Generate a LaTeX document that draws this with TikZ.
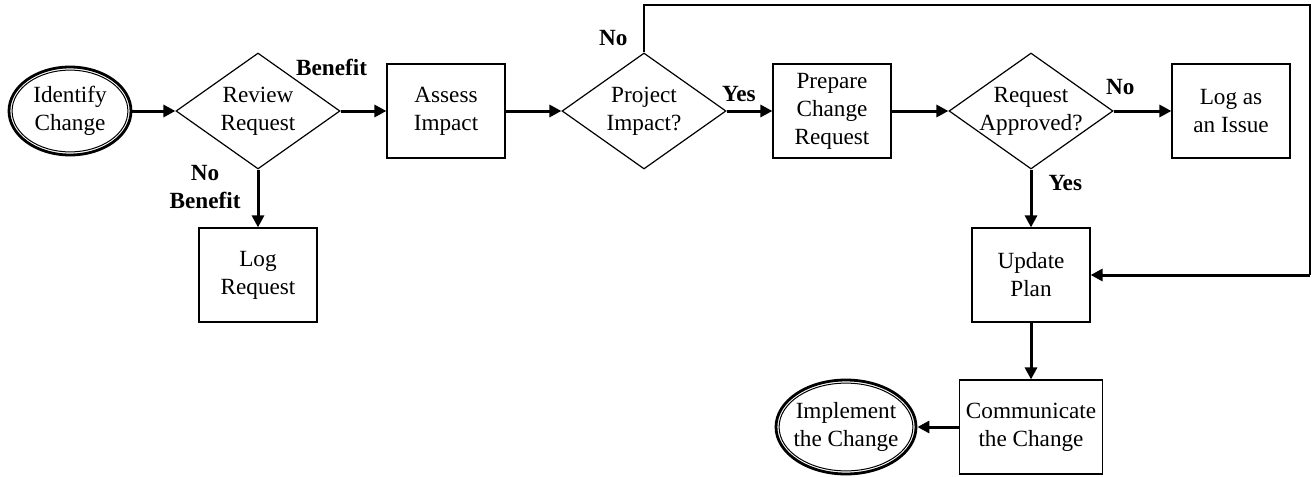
\documentclass[tikz,border=0pt]{standalone}
\usepackage{fontspec}
\setmainfont{Liberation Serif}
\usetikzlibrary{shapes.geometric,arrows.meta}

\tikzset{
  terminal/.style={ellipse, draw, line width=1.4pt, inner sep=0pt, align=center,
    font=\fontsize{11.6}{14}\selectfont},
  procbox/.style={rectangle, draw, line width=0.6pt, minimum width=59pt, minimum height=47pt,
    align=center, font=\fontsize{11.6}{14}\selectfont},
  decision/.style={diamond, draw, line width=0.6pt, shape aspect=1.41, inner sep=-1.5pt,
    minimum width=82pt, minimum height=58pt, align=center, font=\fontsize{11.6}{14}\selectfont},
  flow/.style={-{Triangle[length=6pt,width=6pt]}, line width=1.5pt},
  loopline/.style={line width=0.6pt},
  lbl/.style={font=\bfseries\fontsize{11.6}{14}\selectfont, inner sep=0pt, align=center}
}

\begin{document}
\begin{tikzpicture}[x=0.5pt, y=-0.5pt]
  \useasboundingbox (0,0) rectangle (1315,476);

  % start and end
  \node[terminal, minimum width=61pt, minimum height=44pt] (ident) at (70,111) {Identify\\Change};
  \node[terminal, minimum width=70pt, minimum height=47pt, inner xsep=-5pt] (impl) at (846,427) {Implement\\the Change};
  \foreach \n/\rx/\ry in {ident/28.95pt/20.45pt, impl/33.45pt/21.95pt}
    \draw[line width=0.5pt] (\n.center) ellipse [x radius=\rx, y radius=\ry];

  % decisions
  \node[decision] (review) at (258,111) {Review\\Request};
  \node[decision] (proj)   at (644,111) {Project\\Impact?};
  \node[decision] (appr)   at (1031,111) {Request\\Approved?};

  % steps
  \node[procbox] (assess) at (446,111)  {Assess\\Impact};
  \node[procbox] (prep)   at (832,111)  {Prepare\\Change\\Request};
  \node[procbox] (issue)  at (1231,111) {Log as\\an Issue};
  \node[procbox] (logreq) at (258,275)  {Log\\Request};
  \node[procbox] (upd)    at (1031,275) {Update\\Plan};
  \node[procbox, minimum width=70pt] (comm) at (1031,427) {Communicate\\the Change};

  % loop back from Project Impact?
  \coordinate (loopa) at (644,5);
  \coordinate (loopb) at (1310,5);
  \coordinate (loopd) at (1310,275);
  \draw[loopline] (proj.north) -- node[lbl, at start, anchor=south east, xshift=-8pt, yshift=3pt] {No} (loopa)
    -- (loopb) -- (loopd);

  \begin{scope}[every edge/.style={draw, flow}]
    \path (ident)  edge (review);
    \path (review) edge node[lbl, at start, anchor=south, xshift=-4.5pt, yshift=17pt] {Benefit} (assess);
    \path (review) edge node[lbl, pos=0.3, left=8pt] {No\\Benefit} (logreq);
    \path (assess) edge (proj);
    \path (proj)   edge node[lbl, at start, anchor=south west, xshift=-3pt, yshift=4pt] {Yes} (prep);
    \path (prep)   edge (appr);
    \path (appr)   edge node[lbl, at start, anchor=south west, xshift=-4.5pt, yshift=7.5pt] {No} (issue);
    \path (appr)   edge node[lbl, at start, anchor=north west, xshift=8pt, yshift=-2pt] {Yes} (upd);
    \path (loopd)  edge (upd);
    \path (upd)    edge (comm);
    \path (comm)   edge (impl);
  \end{scope}

\end{tikzpicture}
\end{document}
